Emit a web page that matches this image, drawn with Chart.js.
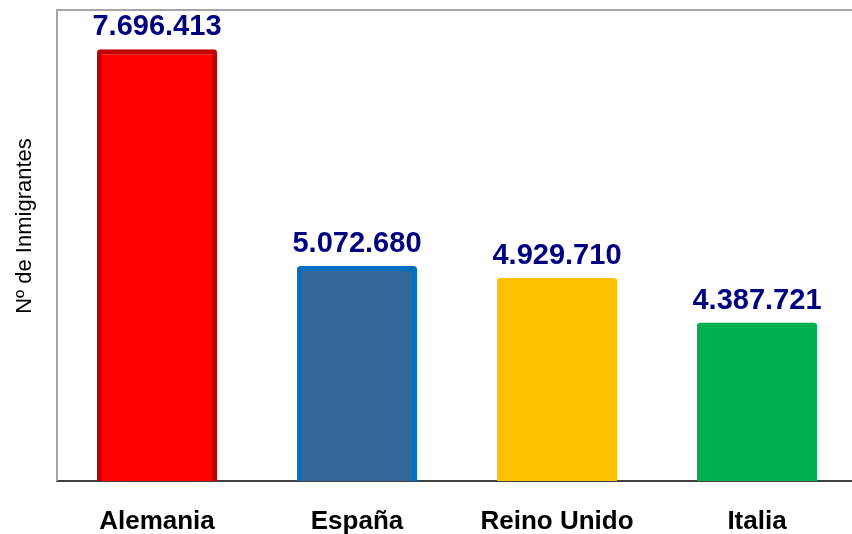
<!DOCTYPE html>
<html>
<head>
<meta charset="utf-8">
<script src="https://cdn.jsdelivr.net/npm/chart.js@4/dist/chart.umd.min.js"></script>
<style>
html,body{margin:0;padding:0;background:#fff;overflow:hidden;}
#wrap{width:860px;height:534px;position:relative;}
</style>
</head>
<body>
<div id="wrap"><canvas id="c"></canvas></div>
<script>
const categories = ['Alemania', 'España', 'Reino Unido', 'Italia'];
const values = [7696413, 5072680, 4929710, 4387721];
const fillColors = ['#FF0000', '#336699', '#FFC000', '#00B050'];
const borderColors = ['#C00000', '#0070C0', '#FFC000', '#00B050'];
const borderWidths = [5, 5, 0, 0];
const yTitle = 'Nº de Inmigrantes';

function fmt(v){ return v.toString().replace(/\B(?=(\d{3})+(?!\d))/g, '.'); }

const frame = {
  id: 'frame',
  beforeDatasetsDraw(chart){
    const {ctx, chartArea:a} = chart;
    ctx.save();
    ctx.strokeStyle = '#a6a6a6';
    ctx.lineWidth = 2;
    ctx.beginPath();
    ctx.moveTo(57, a.bottom);
    ctx.lineTo(57, a.top);
    ctx.lineTo(chart.width, a.top);
    ctx.stroke();
    ctx.restore();
  },
  afterDraw(chart){
    const {ctx} = chart;
    ctx.save();
    ctx.translate(31, 226);
    ctx.rotate(-Math.PI/2);
    ctx.font = '22px "Liberation Sans", Arial, sans-serif';
    ctx.fillStyle = '#000';
    ctx.textAlign = 'center';
    ctx.textBaseline = 'alphabetic';
    ctx.fillText(yTitle, 0, 0);
    ctx.restore();
    const meta = chart.getDatasetMeta(0);
    ctx.save();
    ctx.font = 'bold 29px "Liberation Sans", Arial, sans-serif';
    ctx.fillStyle = '#000080';
    ctx.textAlign = 'center';
    ctx.textBaseline = 'alphabetic';
    meta.data.forEach((bar, i) => {
      ctx.fillText(fmt(values[i]), bar.x, bar.y - 14);
    });
    ctx.restore();
  }
};

new Chart(document.getElementById('c'), {
  type: 'bar',
  data: {
    labels: categories,
    datasets: [{
      data: values,
      backgroundColor: fillColors,
      borderColor: borderColors,
      borderWidth: borderWidths,
      borderSkipped: false,
      borderRadius: 3,
      barPercentage: 0.6,
      categoryPercentage: 1.0
    }]
  },
  options: {
    responsive: true,
    maintainAspectRatio: false,
    devicePixelRatio: 1,
    animation: false,
    layout: { padding: { left: 57, top: 10, right: 3, bottom: 0 } },
    plugins: { legend: { display: false }, tooltip: { enabled: false } },
    scales: {
      y: { display: false, min: 2472000, max: 8172000 },
      x: {
        grid: { display: false, drawTicks: false },
        border: { color: '#404040', width: 2 },
        ticks: {
          color: '#000',
          padding: 25,
          font: { family: '"Liberation Sans", Arial, sans-serif', size: 26, weight: 'bold' }
        },
        afterFit(scale){ scale.height = 53; }
      }
    }
  },
  plugins: [frame]
});
</script>
</body>
</html>
